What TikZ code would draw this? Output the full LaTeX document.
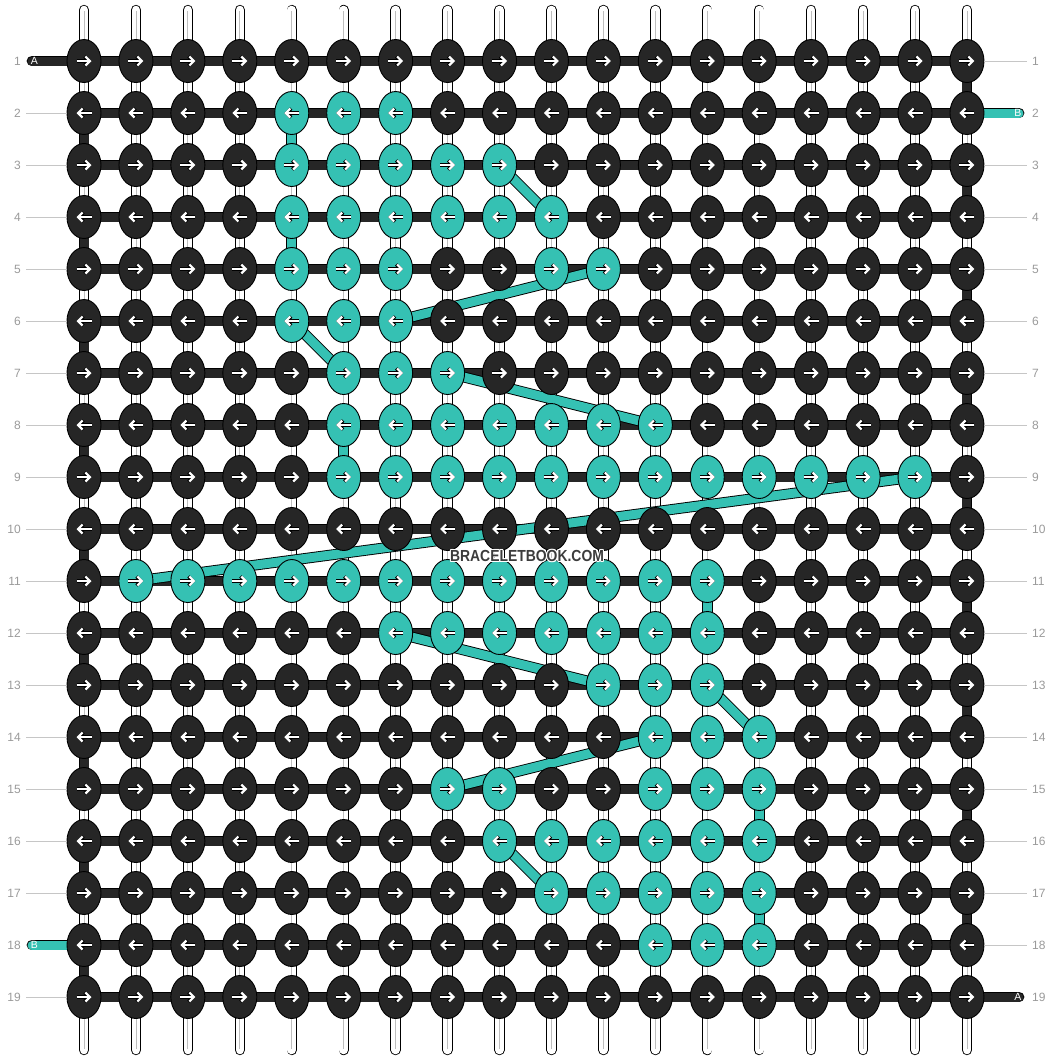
\documentclass[tikz,border=0pt]{standalone}
\usepackage{fontspec}
\setmainfont{Liberation Sans}
\usetikzlibrary{matrix,shapes.geometric,arrows.meta}
\definecolor{knotDark}{HTML}{262626}
\definecolor{knotTeal}{HTML}{35C1B3}
\definecolor{rowGray}{HTML}{9A9A9A}
\definecolor{tickGray}{HTML}{C6C6C6}
\definecolor{coreGray}{HTML}{BEBEBE}
\definecolor{markGray}{HTML}{3C3C3C}
\pgfdeclarelayer{strings}
\pgfdeclarelayer{threads}
\pgfsetlayers{strings,threads,main}
\newcommand*{\knotarrow}[2]{%
	\draw[black, line width=3.4pt, -{Straight Barb[length=4.5pt,width=9pt]}]
		([xshift=#1]path picture bounding box.center) -- ([xshift=#2]path picture bounding box.center);
	\draw[white, line width=2.2pt, -{Straight Barb[length=4.5pt,width=9pt]}]
		([xshift=#1]path picture bounding box.center) -- ([xshift=#2]path picture bounding box.center);}

\begin{document}
\begin{tikzpicture}[x=1pt, y=1pt,
		knot/.style={ellipse, draw=black, line width=0.9pt, fill=knotDark,
			minimum width=34pt, minimum height=43pt, inner sep=0pt},
		tl/.style={fill=knotTeal},
		rarr/.style={path picture={\knotarrow{-7.5pt}{7.5pt}}},
		larr/.style={path picture={\knotarrow{7.5pt}{-7.5pt}}},
		bar/.style={draw=black, line width=0.9pt, double=knotDark, double distance=9pt},
		tealbar/.style={draw=black, line width=0.9pt, double=knotTeal, double distance=9pt},
		strg/.style={draw=black, line width=0.9pt, double=white, double distance=8.6pt, line cap=round},
		strgcore/.style={draw=coreGray, line width=0.8pt},
		rownum/.style={text=rowGray, font=\fontsize{12}{12}\selectfont, inner xsep=5pt, inner ysep=0pt},
		tick/.style={draw=tickGray, line width=0.9pt},
		endlbl/.style={text=white, font=\fontsize{10.5}{10.5}\selectfont, inner sep=0pt},
		wmtext/.style={font=\fontsize{16}{16}\selectfont\bfseries, inner sep=0pt},
	]
		\useasboundingbox (0,0) rectangle (1052,-1060);
		\matrix (m) [
			matrix of nodes,
			nodes in empty cells,
			matrix anchor=m-1-1.center,
			column sep={51.94pt,between origins},
			row sep={52pt,between origins},
			nodes={knot},
			every odd row/.style={nodes={rarr}},
			every even row/.style={nodes={larr}},
		] at (84,-61) {
			{} & {} & {} & {} & {} & {} &  {} & {} & {} & {} & {} & {} &  {} & {} & {} & {} & {} & {} \\
			{} & {} & {} & {} & |[tl]|{} & |[tl]|{} &  |[tl]|{} & {} & {} & {} & {} & {} &  {} & {} & {} & {} & {} & {} \\
			{} & {} & {} & {} & |[tl]|{} & |[tl]|{} &  |[tl]|{} & |[tl]|{} & |[tl]|{} & {} & {} & {} &  {} & {} & {} & {} & {} & {} \\
			{} & {} & {} & {} & |[tl]|{} & |[tl]|{} &  |[tl]|{} & |[tl]|{} & |[tl]|{} & |[tl]|{} & {} & {} &  {} & {} & {} & {} & {} & {} \\
			{} & {} & {} & {} & |[tl]|{} & |[tl]|{} &  |[tl]|{} & {} & {} & |[tl]|{} & |[tl]|{} & {} &  {} & {} & {} & {} & {} & {} \\
			{} & {} & {} & {} & |[tl]|{} & |[tl]|{} &  |[tl]|{} & {} & {} & {} & {} & {} &  {} & {} & {} & {} & {} & {} \\
			{} & {} & {} & {} & {} & |[tl]|{} &  |[tl]|{} & |[tl]|{} & {} & {} & {} & {} &  {} & {} & {} & {} & {} & {} \\
			{} & {} & {} & {} & {} & |[tl]|{} &  |[tl]|{} & |[tl]|{} & |[tl]|{} & |[tl]|{} & |[tl]|{} & |[tl]|{} &  {} & {} & {} & {} & {} & {} \\
			{} & {} & {} & {} & {} & |[tl]|{} &  |[tl]|{} & |[tl]|{} & |[tl]|{} & |[tl]|{} & |[tl]|{} & |[tl]|{} &  |[tl]|{} & |[tl]|{} & |[tl]|{} & |[tl]|{} & |[tl]|{} & {} \\
			{} & {} & {} & {} & {} & {} &  {} & {} & {} & {} & {} & {} &  {} & {} & {} & {} & {} & {} \\
			{} & |[tl]|{} & |[tl]|{} & |[tl]|{} & |[tl]|{} & |[tl]|{} &  |[tl]|{} & |[tl]|{} & |[tl]|{} & |[tl]|{} & |[tl]|{} & |[tl]|{} &  |[tl]|{} & {} & {} & {} & {} & {} \\
			{} & {} & {} & {} & {} & {} &  |[tl]|{} & |[tl]|{} & |[tl]|{} & |[tl]|{} & |[tl]|{} & |[tl]|{} &  |[tl]|{} & {} & {} & {} & {} & {} \\
			{} & {} & {} & {} & {} & {} &  {} & {} & {} & {} & |[tl]|{} & |[tl]|{} &  |[tl]|{} & {} & {} & {} & {} & {} \\
			{} & {} & {} & {} & {} & {} &  {} & {} & {} & {} & {} & |[tl]|{} &  |[tl]|{} & |[tl]|{} & {} & {} & {} & {} \\
			{} & {} & {} & {} & {} & {} &  {} & |[tl]|{} & |[tl]|{} & {} & {} & |[tl]|{} &  |[tl]|{} & |[tl]|{} & {} & {} & {} & {} \\
			{} & {} & {} & {} & {} & {} &  {} & {} & |[tl]|{} & |[tl]|{} & |[tl]|{} & |[tl]|{} &  |[tl]|{} & |[tl]|{} & {} & {} & {} & {} \\
			{} & {} & {} & {} & {} & {} &  {} & {} & {} & |[tl]|{} & |[tl]|{} & |[tl]|{} &  |[tl]|{} & |[tl]|{} & {} & {} & {} & {} \\
			{} & {} & {} & {} & {} & {} &  {} & {} & {} & {} & {} & |[tl]|{} &  |[tl]|{} & |[tl]|{} & {} & {} & {} & {} \\
			{} & {} & {} & {} & {} & {} &  {} & {} & {} & {} & {} & {} &  {} & {} & {} & {} & {} & {} \\
		};
		%
		\begin{pgfonlayer}{strings}
			\foreach \c in {1,...,18} {
				\draw[strg] ([yshift=51pt]m-1-\c.center) -- ([yshift=-53pt]m-19-\c.center);
				\draw[strgcore] ([yshift=50pt]m-1-\c.center) -- ([yshift=-52pt]m-19-\c.center);
			}
		\end{pgfonlayer}
		%
		\coordinate (endA1) at ([xshift=-52pt]m-1-1.center);
		\coordinate (endB2) at ([xshift=52pt]m-2-18.center);
		\coordinate (endB18) at ([xshift=-52pt]m-18-1.center);
		\coordinate (endA19) at ([xshift=52pt]m-19-18.center);
		\begin{pgfonlayer}{threads}
			\foreach \r in {1,...,19}
				\draw[bar] (m-\r-1.center) -- (m-\r-18.center);
			\foreach \r [evaluate=\r as \s using int(\r+1)] in {1,3,...,17}
				\draw[bar] (m-\r-18.center) -- (m-\s-18.center);
			\foreach \r [evaluate=\r as \s using int(\r+1)] in {2,4,...,18}
				\draw[bar] (m-\r-1.center) -- (m-\s-1.center);
			\draw[bar, line cap=round] (m-1-1.center) -- (endA1);
			\draw[bar, line cap=round] (m-19-18.center) -- (endA19);
			\draw[tealbar, line cap=round] (m-2-18.center) -- (endB2);
			\draw[tealbar, line cap=round] (m-18-1.center) -- (endB18);
			%
			\draw[tealbar] (m-2-5.center) -- (m-3-5.center);
			\draw[tealbar] (m-3-9.center) -- (m-4-10.center);
			\draw[tealbar] (m-4-5.center) -- (m-5-5.center);
			\draw[tealbar] (m-5-11.center) -- (m-6-7.center);
			\draw[tealbar] (m-6-5.center) -- (m-7-6.center);
			\draw[tealbar] (m-7-8.center) -- (m-8-12.center);
			\draw[tealbar] (m-8-6.center) -- (m-9-6.center);
			\draw[tealbar] (m-9-17.center) -- (m-11-2.center);
			\draw[tealbar] (m-11-13.center) -- (m-12-13.center);
			\draw[tealbar] (m-12-7.center) -- (m-13-11.center);
			\draw[tealbar] (m-13-13.center) -- (m-14-14.center);
			\draw[tealbar] (m-14-12.center) -- (m-15-8.center);
			\draw[tealbar] (m-15-14.center) -- (m-16-14.center);
			\draw[tealbar] (m-16-9.center) -- (m-17-10.center);
			\draw[tealbar] (m-17-14.center) -- (m-18-14.center);
		\end{pgfonlayer}
		%
		\node[endlbl] (lblA1) at ([xshift=-49.5pt]m-1-1.center) {A};
		\node[endlbl] (lblB2) at ([xshift=51pt]m-2-18.center) {B};
		\node[endlbl] (lblB18) at ([xshift=-49.5pt]m-18-1.center) {B};
		\node[endlbl] (lblA19) at ([xshift=51pt]m-19-18.center) {A};
		%
		\foreach \r in {1,...,19} {
			\node[rownum, anchor=east] (numL-\r) at ([xshift=-58pt]m-\r-1.center) {\r};
			\node[rownum, anchor=west] (numR-\r) at ([xshift=60pt]m-\r-18.center) {\r};
		}
		\foreach \r in {2,...,17,19}
			\draw[tick] (numL-\r.east) -- (m-\r-1.west);
		\foreach \r in {1,3,4,...,18}
			\draw[tick] (m-\r-18.east) -- (numR-\r.west);
		%
		\coordinate (wmpos) at (527,-556);
		\foreach \dx/\dy [count=\i] in {1/0,-1/0,0/1,0/-1,0.8/0.8,0.8/-0.8,-0.8/0.8,-0.8/-0.8}
			\node[wmtext, text=white] (halo-\i) at ([shift={(\dx,\dy)}]wmpos) {\scalebox{0.87}[1]{BRACELETBOOK.COM}};
		\node[wmtext, text=markGray] (wmark) at (wmpos) {\scalebox{0.87}[1]{BRACELETBOOK.COM}};
	\end{tikzpicture}
\end{document}
